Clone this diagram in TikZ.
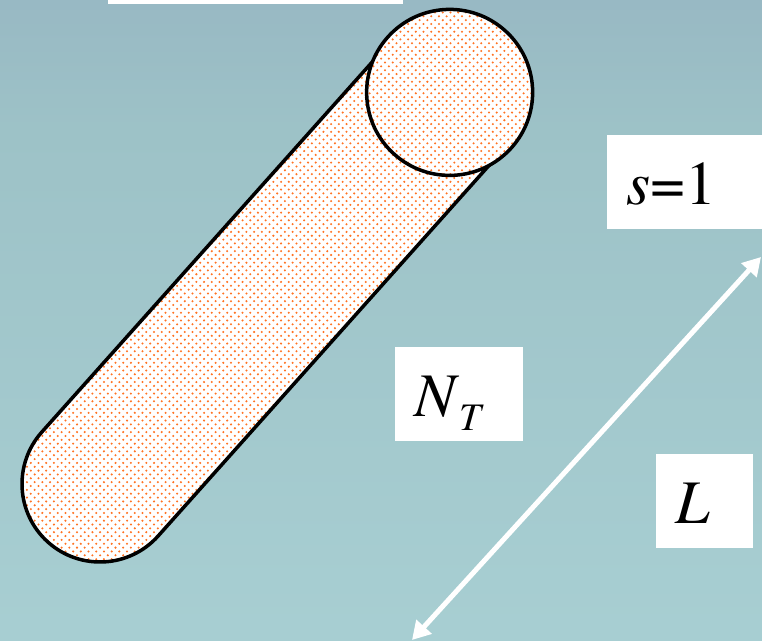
\documentclass[tikz,border=0pt]{standalone}
\usepackage{fontspec}
\setmainfont{texgyretermes}[Extension=.otf, UprightFont=*-regular, ItalicFont=*-italic]
\usetikzlibrary{arrows.meta,patterns.meta}
\definecolor{bgtop}{RGB}{140,162,187}
\definecolor{bgmid}{RGB}{157,194,199}
\definecolor{bgbot}{RGB}{174,214,217}
\definecolor{dotorange}{RGB}{255,115,35}
\pgfdeclareverticalshading{bgshade}{100bp}{color(0bp)=(bgbot); color(65bp)=(bgmid); color(100bp)=(bgtop)}
\tikzdeclarepattern{
  name=orangedots, type=uncolored,
  bottom left={(-1.5pt,-1.5pt)}, top right={(7pt,7pt)}, tile size={(7.7pt,7.7pt)},
  code={\fill (0pt,0pt) circle (1.15pt); \fill (3.85pt,3.85pt) circle (1.15pt);}
}
\tikzset{
  capsule/.style={draw=black, line width=3.5pt, preaction={fill=white}, pattern=orangedots, pattern color=dotorange},
  labelbox/.style={fill=white, inner xsep=19pt, inner ysep=0pt, minimum height=94pt, text height=45pt, text depth=0pt, align=left, anchor=south west, font=\fontsize{62}{70}\selectfont},
  dimarrow/.style={{Triangle[length=18pt,width=20pt]}-{Triangle[length=18pt,width=20pt]}, white, line width=5pt}
}

\begin{document}
\begin{tikzpicture}[x=1pt, y=1pt]
  \useasboundingbox (0,0) rectangle (762,640);
  \clip (0,0) rectangle (762,640);
  \shade[shading=bgshade] (0,0) rectangle (762,640);

  % box cut off at the top
  \node[fill=white, inner sep=0pt, minimum width=295pt, minimum height=20pt, anchor=south west] (titlebox) at (108,636) {};

  % tube with its end face
  \begin{scope}[shift={(100,156)}, rotate=48.24]
    \draw[capsule] (525,78) -- (0,78) arc[start angle=90, end angle=270, radius=78] -- (525,-78) -- cycle;
    \draw[capsule] (525,0) circle[radius=83];
  \end{scope}

  \node[labelbox, text width=117pt] (slabel) at (607,411) {\textit{s}=1};
  \node[labelbox, text width=90pt] (ntlabel) at (395,199) {\textit{N}\raisebox{-14pt}{\fontsize{39}{40}\selectfont\textit{T}}};
  \node[labelbox, text width=59pt] (llabel) at (656,92) {\textit{L}};

  \coordinate (lowend) at (412,0);
  \coordinate (highend) at (761,383);
  \draw[dimarrow] (lowend) -- (highend);
\end{tikzpicture}
\end{document}
